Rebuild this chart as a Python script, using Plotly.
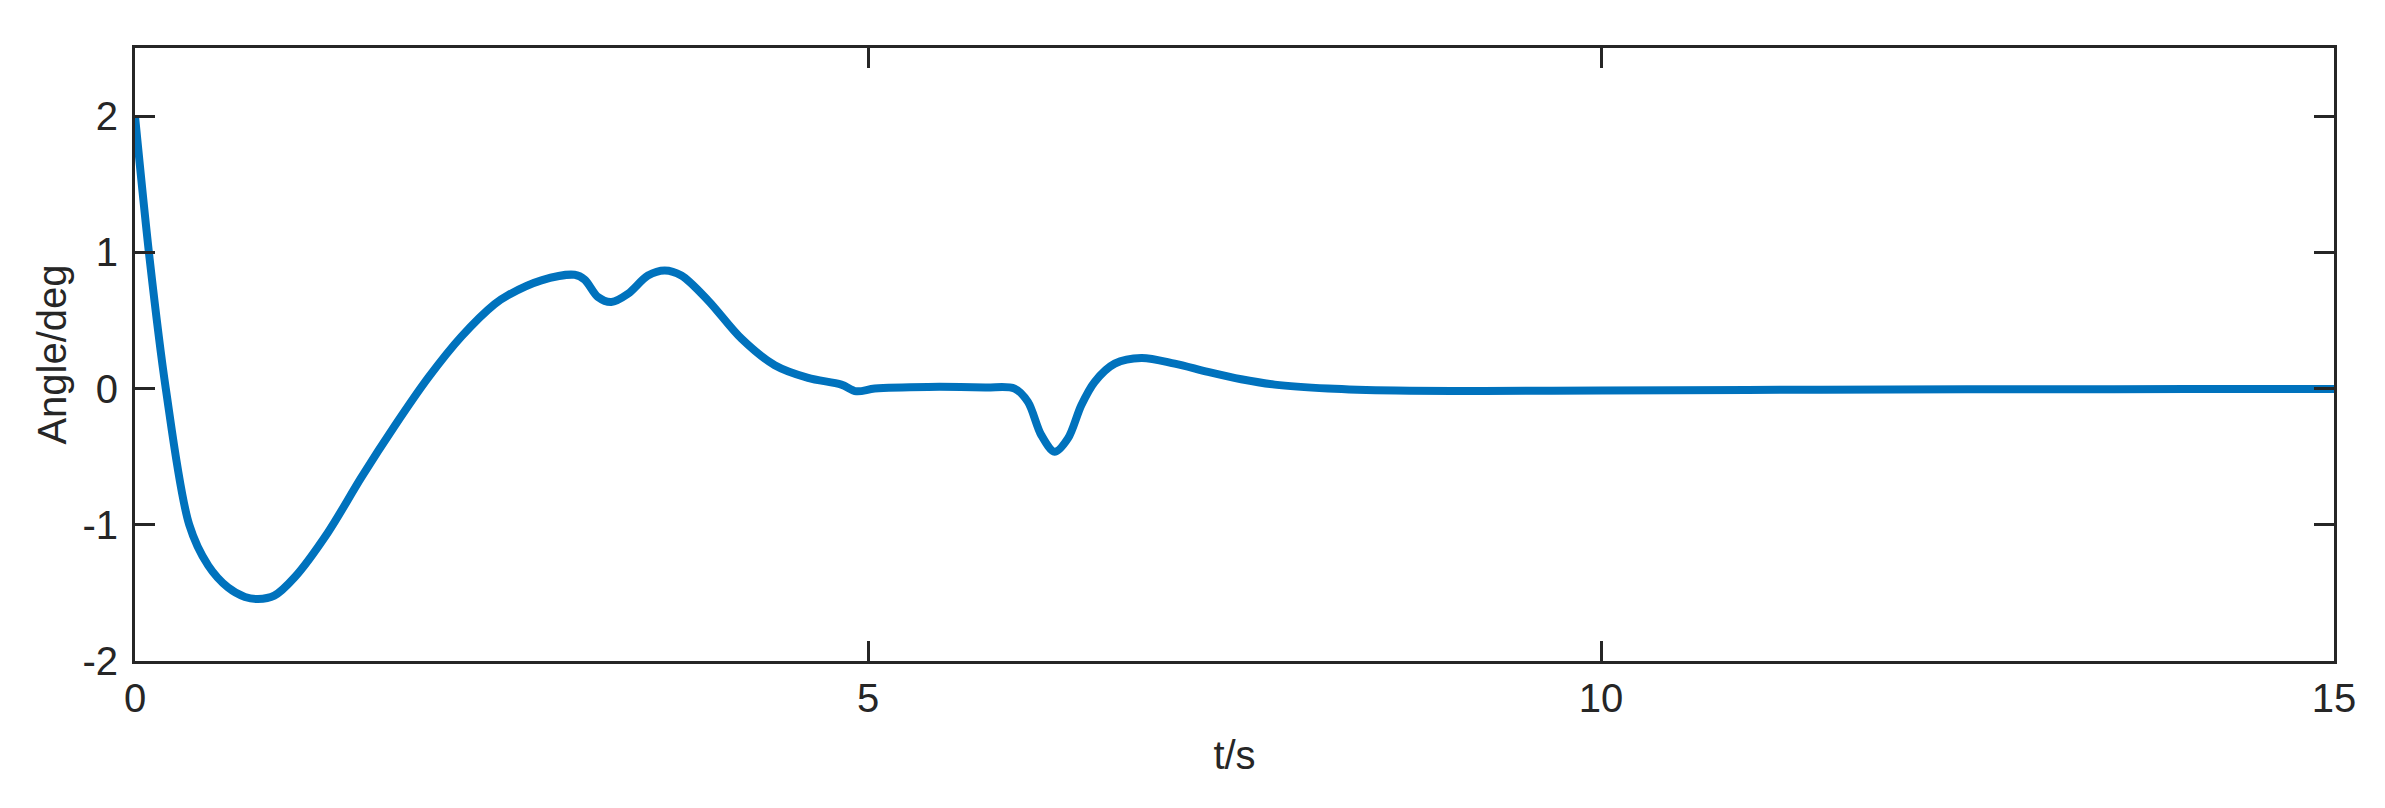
import plotly.graph_objects as go

# ── Data ───────────────────────────────────────────────────────────────────
t_s = [0.0, 0.1, 0.21, 0.37, 0.5, 0.634, 0.75, 0.839,
       0.95, 1.089, 1.316, 1.544, 1.771, 1.999, 2.226, 2.453, 2.544, 2.772,
       2.999, 3.067, 3.158, 3.249, 3.363, 3.499, 3.613, 3.727, 3.909, 4.137,
       4.364, 4.591, 4.818, 4.921, 5.046, 5.41, 5.8, 6.0, 6.091, 6.182,
       6.273, 6.364, 6.455, 6.546, 6.683, 6.865, 7.092, 7.319, 7.546, 7.774,
       8.138, 8.6, 9.2, 10.0, 11.0, 12.0, 13.0, 14.0, 15.0]
angle_deg = [2.0, 0.95, 0.0, -1.0, -1.3, -1.46, -1.53, -1.545,
             -1.52, -1.385, -1.056, -0.652, -0.275, 0.078, 0.381, 0.62, 0.685, 0.794,
             0.835, 0.80, 0.672, 0.635, 0.696, 0.83, 0.867, 0.83, 0.647, 0.366,
             0.171, 0.078, 0.029, -0.02, 0.0, 0.012, 0.008, 0.0, -0.098, -0.342,
             -0.464, -0.366, -0.122, 0.049, 0.183, 0.225, 0.183, 0.122, 0.068, 0.029,
             0.0, -0.015, -0.018, -0.014, -0.01, -0.007, -0.005, -0.004, -0.004]

x_ticks = [0, 5, 10, 15]
y_ticks = [-2, -1, 0, 1, 2]
y_tick_text = ["-2", "-1", "0", "1", "2"]

# ── Style ─────────────────────────────────────────────────────────────────
AX_COLOR = "#262626"
FONT = dict(family="Liberation Sans, Arial, sans-serif", size=40, color=AX_COLOR)
AXIS_STYLE = dict(
    showline=True, linecolor=AX_COLOR, linewidth=3, mirror="ticks",
    ticks="inside", ticklen=20, tickwidth=3, tickcolor=AX_COLOR,
    showgrid=False, zeroline=False, tickfont=FONT,
)

fig = go.Figure(go.Scatter(
    x=t_s, y=angle_deg,
    mode="lines",
    line=dict(color="#0072BD", width=8, shape="spline", smoothing=0.9),
    showlegend=False,
))

fig.update_layout(
    width=2385, height=808,
    paper_bgcolor="white", plot_bgcolor="white",
    margin=dict(l=127, r=59, t=40, b=155),
    font=FONT,
    xaxis=dict(**AXIS_STYLE, range=[0, 15], tickvals=x_ticks, ticklabelstandoff=0,
               title=dict(text="t/s", font=FONT, standoff=22)),
    yaxis=dict(**AXIS_STYLE, range=[-2, 2.5], tickvals=y_ticks, ticktext=y_tick_text,
               ticklabelstandoff=6, title=dict(text="Angle/deg", font=FONT, standoff=4)),
)

fig.write_html("out.html")
